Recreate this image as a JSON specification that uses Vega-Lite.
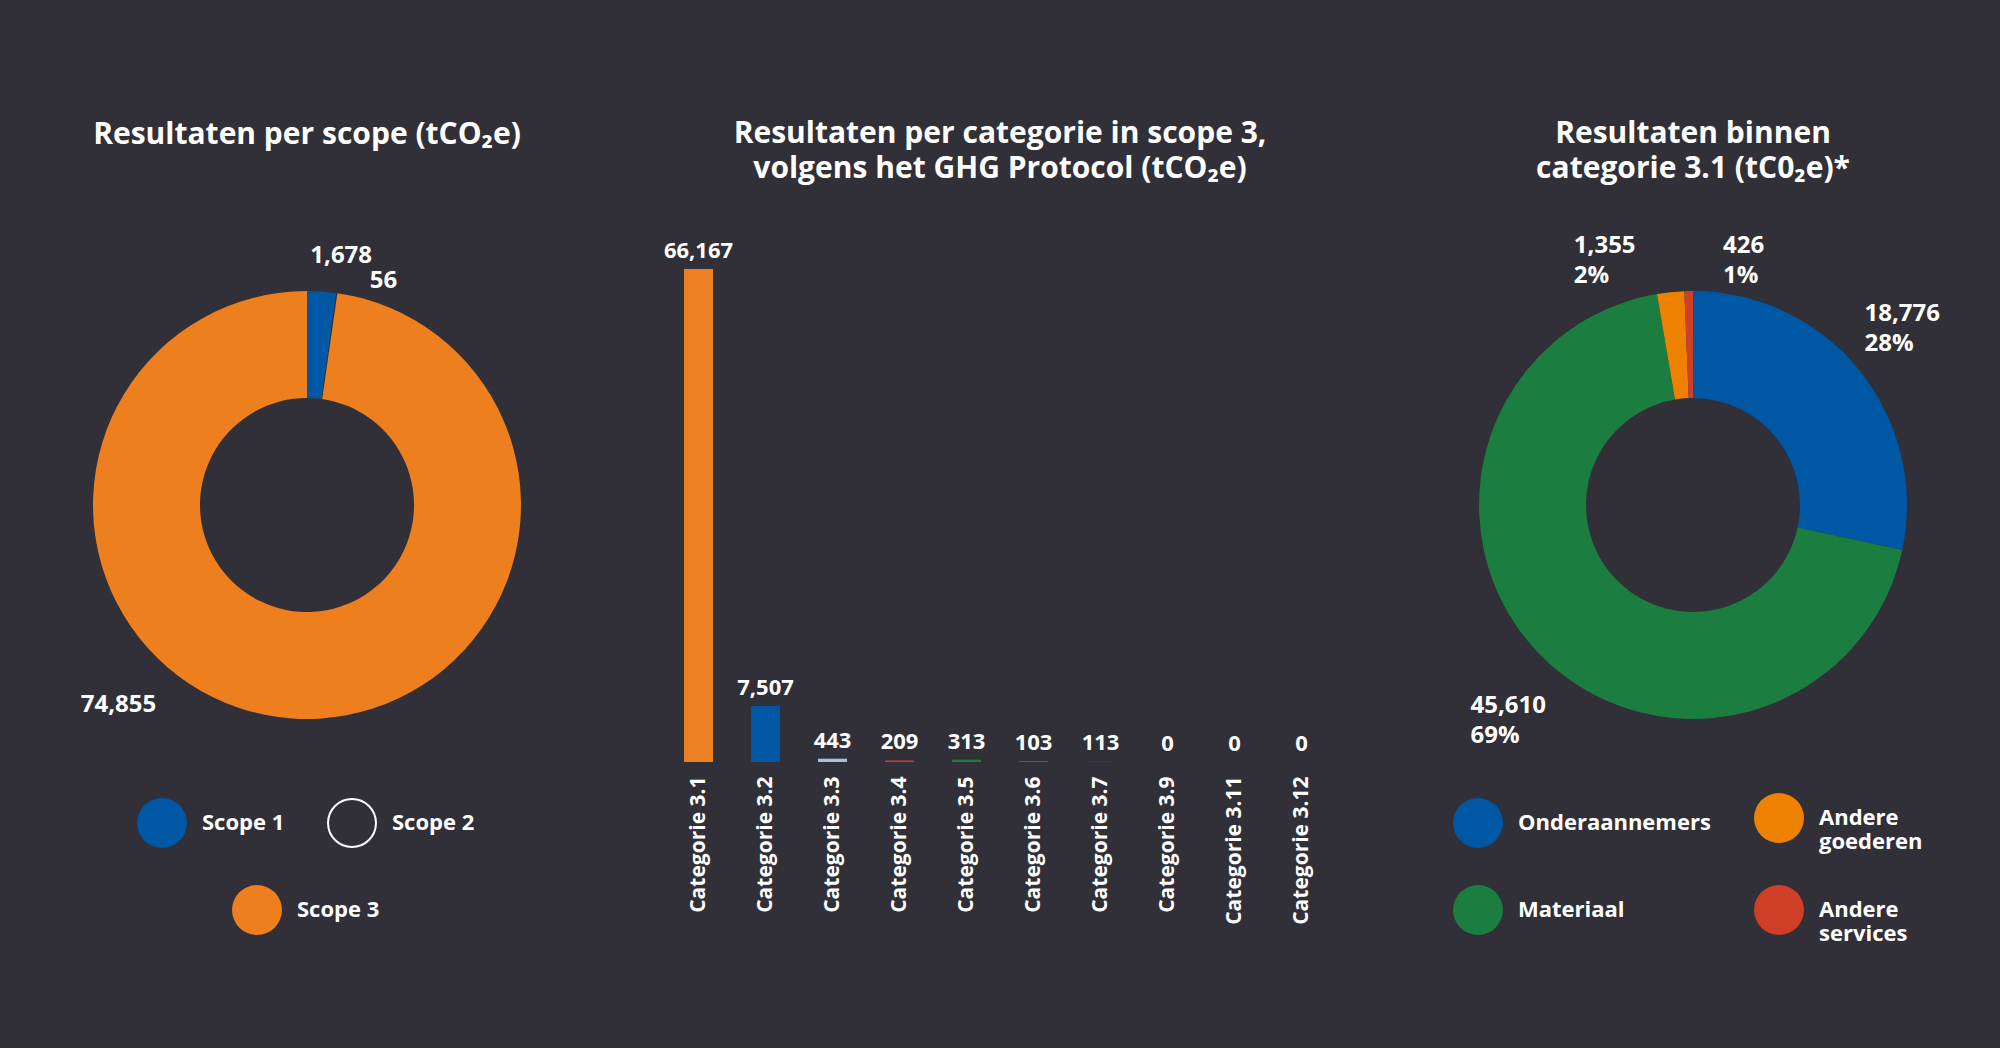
{
  "$schema": "https://vega.github.io/schema/vega-lite/v6.json",
  "background": "#312f37",
  "padding": {"left": 0, "top": 119, "right": 0, "bottom": 103},
  "bounds": "flush",
  "spacing": 51,
  "config": {
    "view": {"stroke": null},
    "font": "Open Sans",
    "title": {"color": "#ffffff", "font": "Open Sans", "fontSize": 30, "fontWeight": 700, "anchor": "middle", "frame": "group", "lineHeight": 35},
    "text": {"color": "#ffffff", "font": "Open Sans", "fontWeight": 700},
    "arc": {"stroke": null},
    "legend": {"labelColor": "#ffffff", "labelFont": "Open Sans", "labelFontWeight": 700, "labelFontSize": 22, "labelLimit": 400, "symbolType": "circle", "symbolSize": 2500, "symbolStrokeWidth": 0, "symbolOpacity": 1, "labelOffset": 15, "rowPadding": 36, "columnPadding": 42, "padding": 0, "titlePadding": 0}
  },
  "resolve": {"scale": {"color": "independent", "theta": "independent", "x": "independent", "y": "independent"}, "legend": {"color": "independent"}},
  "datasets": {
    "scopes": [
      {"scope": "Scope 1", "value": 1678, "i": 1},
      {"scope": "Scope 2", "value": 56, "i": 2},
      {"scope": "Scope 3", "value": 74855, "i": 3}
    ],
    "cats": [
      {"cat": "Categorie 3.1", "value": 66167},
      {"cat": "Categorie 3.2", "value": 7507},
      {"cat": "Categorie 3.3", "value": 443},
      {"cat": "Categorie 3.4", "value": 209},
      {"cat": "Categorie 3.5", "value": 313},
      {"cat": "Categorie 3.6", "value": 103},
      {"cat": "Categorie 3.7", "value": 113},
      {"cat": "Categorie 3.9", "value": 0},
      {"cat": "Categorie 3.11", "value": 0},
      {"cat": "Categorie 3.12", "value": 0}
    ],
    "subs": [
      {"sub": "Onderaannemers", "value": 18776, "share": 0.28, "i": 1},
      {"sub": "Materiaal", "value": 45610, "share": 0.69, "i": 2},
      {"sub": "Andere goederen", "value": 1355, "share": 0.02, "i": 3},
      {"sub": "Andere services", "value": 426, "share": 0.01, "i": 4}
    ]
  },
  "hconcat": [
    {
      "width": 614,
      "height": 610,
      "title": {"text": "Resultaten per scope (tCO₂e)", "offset": 45},
      "data": {"name": "scopes"},
      "encoding": {
        "theta": {"field": "value", "type": "quantitative", "stack": true},
        "order": {"field": "i", "type": "quantitative"}
      },
      "layer": [
        {
          "mark": {"type": "arc", "radius": 214, "radius2": 107},
          "encoding": {
            "color": {
              "field": "scope", "type": "nominal",
              "scale": {"domain": ["Scope 1", "Scope 2", "Scope 3"], "range": ["#0057a3", "#312f37", "#ed7f1f"]},
              "legend": {"title": null, "values": ["Scope 1"], "orient": "none", "legendX": 137, "legendY": 598}
            }
          }
        },
        {
          "mark": {"type": "arc", "radius": 0, "radius2": 0},
          "encoding": {
            "fill": {
              "field": "scope", "type": "nominal",
              "scale": {"domain": ["Scope 3", "Scope 1", "Scope 2"], "range": ["#ed7f1f", "#0057a3", "#312f37"]},
              "legend": {"title": null, "values": ["Scope 3"], "orient": "none", "legendX": 232, "legendY": 685}
            }
          }
        },
        {
          "mark": {"type": "arc", "radius": 0, "radius2": 0, "filled": false, "strokeWidth": 2},
          "encoding": {
            "stroke": {
              "field": "scope", "type": "nominal",
              "scale": {"domain": ["Scope 2", "Scope 1", "Scope 3"], "range": ["#ffffff", "#0057a3", "#ed7f1f"]},
              "legend": {"title": null, "values": ["Scope 2"], "orient": "none", "legendX": 327, "legendY": 598, "symbolStrokeWidth": 2, "symbolFillColor": "#312f37", "symbolSize": 2300}
            }
          }
        },
        {
          "mark": {"type": "text", "radius": 250, "align": "center", "baseline": "alphabetic", "dx": 17, "dy": 7, "fontSize": 24},
          "encoding": {"text": {"condition": {"test": "datum.scope === 'Scope 1'", "field": "value", "format": ","}, "value": ""}}
        },
        {
          "mark": {"type": "text", "radius": 250, "align": "left", "baseline": "alphabetic", "dx": 28, "dy": 31, "fontSize": 24},
          "encoding": {"text": {"condition": {"test": "datum.scope === 'Scope 2'", "field": "value", "format": ","}, "value": ""}}
        },
        {
          "mark": {"type": "text", "radius": 250, "align": "right", "baseline": "alphabetic", "dx": -133, "dy": -42, "fontSize": 24},
          "encoding": {"text": {"condition": {"test": "datum.scope === 'Scope 3'", "field": "value", "format": ","}, "value": ""}}
        }
      ]
    },
    {
      "width": 670,
      "height": 562,
      "title": {"text": ["Resultaten per categorie in scope 3,", "volgens het GHG Protocol (tCO₂e)"], "offset": 16},
      "data": {"name": "cats"},
      "encoding": {
        "x": {
          "field": "cat", "type": "nominal", "sort": null,
          "scale": {"paddingInner": 0.57, "paddingOuter": 0.285},
          "axis": {"title": null, "labelAngle": -90, "labelAlign": "right", "labelBaseline": "middle", "labelColor": "#ffffff", "labelFont": "Open Sans", "labelFontSize": 21, "labelFontWeight": 700, "labelPadding": 14, "labelLimit": 400, "ticks": false, "domain": false, "grid": false}
        },
        "y": {"field": "value", "type": "quantitative", "scale": {"domain": [0, 75430], "nice": false, "zero": true}, "axis": null}
      },
      "layer": [
        {
          "mark": {"type": "bar", "width": 29},
          "encoding": {
            "color": {
              "field": "cat", "type": "nominal",
              "scale": {
                "domain": ["Categorie 3.1", "Categorie 3.2", "Categorie 3.3", "Categorie 3.4", "Categorie 3.5", "Categorie 3.6", "Categorie 3.7", "Categorie 3.9", "Categorie 3.11", "Categorie 3.12"],
                "range": ["#ec8023", "#0057a3", "#9dc3e6", "#cc3b2a", "#1c7d3f", "#a05a2c", "#1f3d6c", "#888888", "#888888", "#888888"]
              },
              "legend": null
            }
          }
        },
        {
          "mark": {"type": "text", "baseline": "alphabetic", "dy": -11, "fontSize": 22},
          "encoding": {"text": {"field": "value", "type": "quantitative", "format": ","}}
        }
      ]
    },
    {
      "width": 614,
      "height": 610,
      "title": {"text": ["Resultaten binnen", "categorie 3.1 (tC0₂e)*"], "offset": 16},
      "data": {"name": "subs"},
      "encoding": {
        "theta": {"field": "value", "type": "quantitative", "stack": true},
        "order": {"field": "i", "type": "quantitative"}
      },
      "layer": [
        {
          "mark": {"type": "arc", "radius": 214, "radius2": 107},
          "encoding": {
            "color": {
              "field": "sub", "type": "nominal",
              "scale": {"domain": ["Onderaannemers", "Andere goederen", "Materiaal", "Andere services"], "range": ["#0057a3", "#ef8100", "#1c7d40", "#cf3f27"]},
              "legend": {"title": null, "orient": "none", "legendX": 67, "legendY": 593, "direction": "horizontal", "columns": 2, "columnPadding": 43, "rowPadding": 32, "labelExpr": "split(datum.label, ' ')", "encode": {"labels": {"lineHeight": {"value": 26}}}}
            }
          }
        },
        {
          "mark": {"type": "text", "radius": 250, "align": "left", "baseline": "alphabetic", "dx": -23, "dy": -27, "fontSize": 24},
          "encoding": {"text": {"condition": {"test": "datum.sub === 'Onderaannemers'", "field": "value", "format": ","}, "value": ""}}
        },
        {
          "mark": {"type": "text", "radius": 250, "align": "left", "baseline": "alphabetic", "dx": -23, "dy": 3, "fontSize": 24},
          "encoding": {"text": {"condition": {"test": "datum.sub === 'Onderaannemers'", "field": "share", "format": ".0%"}, "value": ""}}
        },
        {
          "mark": {"type": "text", "radius": 250, "align": "left", "baseline": "alphabetic", "dx": -42, "dy": 35, "fontSize": 24},
          "encoding": {"text": {"condition": {"test": "datum.sub === 'Materiaal'", "field": "value", "format": ","}, "value": ""}}
        },
        {
          "mark": {"type": "text", "radius": 250, "align": "left", "baseline": "alphabetic", "dx": -42, "dy": 65, "fontSize": 24},
          "encoding": {"text": {"condition": {"test": "datum.sub === 'Materiaal'", "field": "share", "format": ".0%"}, "value": ""}}
        },
        {
          "mark": {"type": "text", "radius": 250, "align": "left", "baseline": "alphabetic", "dx": -93, "dy": -3, "fontSize": 24},
          "encoding": {"text": {"condition": {"test": "datum.sub === 'Andere goederen'", "field": "value", "format": ","}, "value": ""}}
        },
        {
          "mark": {"type": "text", "radius": 250, "align": "left", "baseline": "alphabetic", "dx": -93, "dy": 27, "fontSize": 24},
          "encoding": {"text": {"condition": {"test": "datum.sub === 'Andere goederen'", "field": "share", "format": ".0%"}, "value": ""}}
        },
        {
          "mark": {"type": "text", "radius": 250, "align": "left", "baseline": "alphabetic", "dx": 35, "dy": -2, "fontSize": 24},
          "encoding": {"text": {"condition": {"test": "datum.sub === 'Andere services'", "field": "value", "format": ","}, "value": ""}}
        },
        {
          "mark": {"type": "text", "radius": 250, "align": "left", "baseline": "alphabetic", "dx": 35, "dy": 28, "fontSize": 24},
          "encoding": {"text": {"condition": {"test": "datum.sub === 'Andere services'", "field": "share", "format": ".0%"}, "value": ""}}
        }
      ]
    }
  ]
}
